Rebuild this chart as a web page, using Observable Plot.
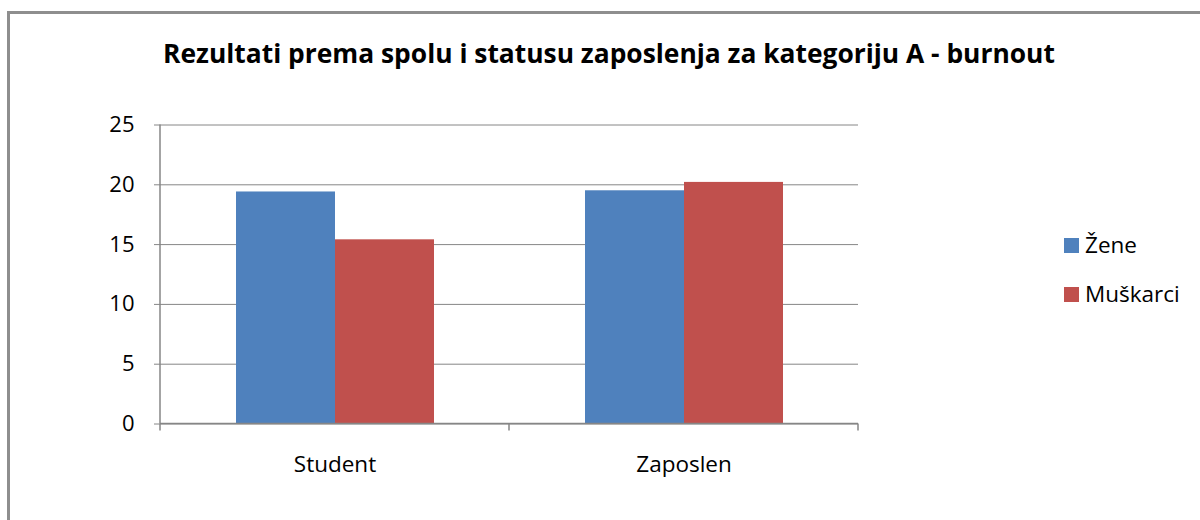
<!DOCTYPE html>
<html>
<head>
<meta charset="utf-8">
<script src="https://cdn.jsdelivr.net/npm/d3@7"></script>
<script src="https://cdn.jsdelivr.net/npm/@observablehq/plot@0.6"></script>
<style>
  html, body { margin: 0; padding: 0; background: #fff; }
  #wrap { position: relative; width: 1200px; height: 520px; overflow: hidden; font-family: "Open Sans", sans-serif; color: #000; }
  #chart { position: absolute; left: 0; top: 0; }
  #border { position: absolute; left: 7px; top: 11px; width: 1300px; height: 600px; border-left: 3px solid #8e8e8e; border-top: 3px solid #8e8e8e; box-sizing: border-box; pointer-events: none; }
  #title { position: absolute; white-space: nowrap; font-weight: 700; line-height: 1; }
  .leg { position: absolute; left: 1064px; display: flex; align-items: center; white-space: nowrap; }
  .sw { width: 15px; height: 15px; margin-right: 6px; }
  .lt { font-size: 22.5px; line-height: 1; }
</style>
</head>
<body>
<div id="wrap">
  <div id="chart"></div>
  <div id="border"></div>
  <div id="title"></div>
  <div id="legend"></div>
</div>
<script>
const titleText = "Rezultati prema spolu i statusu zaposlenja za kategoriju A - burnout";
const categories = ["Student", "Zaposlen"];
const series = ["Žene", "Muškarci"];
const zene = [19.4, 19.5];
const muskarci = [15.4, 20.2];
const yTicks = [0, 5, 10, 15, 20, 25];
const colors = ["#4F81BD", "#C0504D"];

const values = [zene, muskarci];
const data = categories.flatMap((c, i) => series.map((s, j) => ({category: c, series: s, value: values[j][i]})));

const gray = "#868686";
const chart = Plot.plot({
  width: 1200,
  height: 520,
  marginLeft: 159,
  marginRight: 342,
  marginTop: 124.5,
  marginBottom: 96.5,
  style: {background: "transparent", fontFamily: "'Open Sans', sans-serif", color: "#000", overflow: "visible"},
  fx: {domain: categories, padding: 0, label: null},
  x: {domain: series, paddingInner: 0, paddingOuter: 0.75, axis: null},
  y: {domain: [0, 25], label: null},
  color: {domain: series, range: colors},
  marks: [
    Plot.gridY(yTicks, {stroke: gray, strokeOpacity: 1, strokeWidth: 1}),
    Plot.barY(data, {fx: "category", x: "series", y: "value", fill: "series"}),
    Plot.axisY(yTicks, {tickSize: 6, tickPadding: 20, stroke: gray, strokeOpacity: 1, fontSize: 22, label: null}),
    Plot.axisFx({anchor: "bottom", tickSize: 0, tickPadding: 32, fontSize: 22.5, label: null})
  ]
});
document.getElementById("chart").appendChild(chart);

// axis line and category boundary ticks from the library's scales
const fx = chart.scale("fx");
const ys = chart.scale("y");
const bw = fx.bandwidth;
const fxa = v => fx.apply ? fx.apply(v) : fx.range[0] + categories.indexOf(v) * bw;
const ya = v => ys.apply ? ys.apply(v) : ys.range[0] + (ys.range[1] - ys.range[0]) * (v - ys.domain[0]) / (ys.domain[1] - ys.domain[0]);
const edges = [fxa(categories[0]), ...categories.map(c => fxa(c) + bw)];
const y0 = ya(0), yTop = ya(yTicks[yTicks.length - 1]);
const svg = d3.select(chart);
const g = svg.append("g").attr("stroke", gray).attr("stroke-width", 1.5);
g.append("line").attr("x1", edges[0]).attr("x2", edges[0]).attr("y1", yTop).attr("y2", y0);
g.append("line").attr("x1", edges[0]).attr("x2", edges[edges.length - 1]).attr("y1", y0).attr("y2", y0);
edges.forEach(x => g.append("line").attr("x1", x).attr("x2", x).attr("y1", y0).attr("y2", y0 + 7));

// title fitted to reference width
const t = document.getElementById("title");
t.textContent = titleText;
t.style.fontSize = "24px";
const targetW = 892;
const fs = 24 * targetW / t.getBoundingClientRect().width;
t.style.fontSize = fs + "px";
const tw = t.getBoundingClientRect().width;
t.style.left = (609 - tw / 2) + "px";
t.style.top = (63.5 - 0.888 * fs) + "px";

// legend
const leg = document.getElementById("legend");
const legTops = [238, 287];
series.forEach((s, i) => {
  const row = document.createElement("div");
  row.className = "leg";
  row.style.top = (legTops[i] - 4) + "px";
  row.style.height = "23px";
  const sw = document.createElement("div");
  sw.className = "sw";
  sw.style.background = colors[i];
  const lt = document.createElement("div");
  lt.className = "lt";
  lt.textContent = s;
  row.appendChild(sw);
  row.appendChild(lt);
  leg.appendChild(row);
});
</script>
</body>
</html>
